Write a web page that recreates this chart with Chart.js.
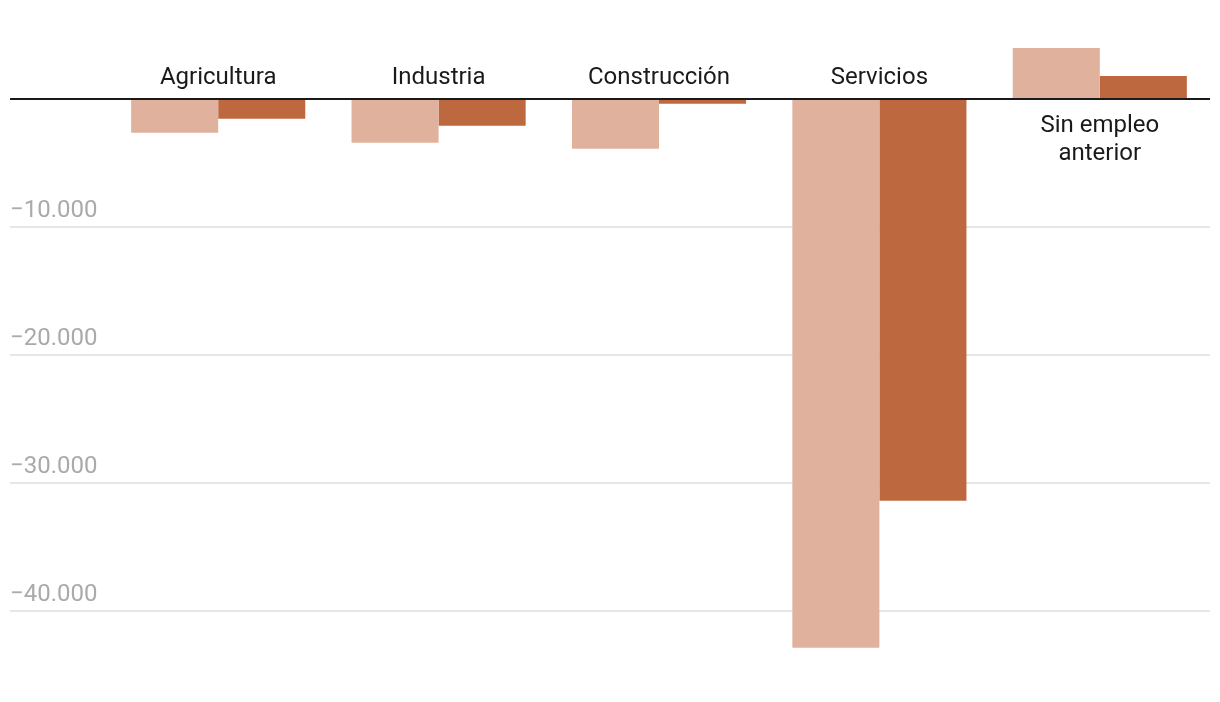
<!DOCTYPE html>
<html lang="es">
<head>
<meta charset="utf-8">
<title>Variación por sector</title>
<script src="https://cdn.jsdelivr.net/npm/chart.js@4"></script>
<style>
  html, body { margin: 0; padding: 0; background: #fff; }
  #chart { display: block; }
</style>
</head>
<body>
<canvas id="chart" width="1220" height="702"></canvas>
<script>
// Data
const categories = ['Agricultura', 'Industria', 'Construcción', 'Servicios', ['Sin empleo', 'anterior']];
const serieA = [-2630, -3410, -3880, -42870, 3980];
const serieB = [-1540, -2090, -370, -31380, 1800];
const tickValues = [0, -10000, -20000, -30000, -40000];

const lightColor = '#e0b29d';
const darkColor = '#be6840';
const FONT = 'Roboto, "Noto Sans", sans-serif';

function formatTick(v) {
  const s = Math.abs(v).toString().replace(/\B(?=(\d{3})+(?!\d))/g, '.');
  return (v < 0 ? '\u2212' : '') + s;
}

// Zero line, tick labels and category labels, drawn from the scales
const labelsPlugin = {
  id: 'labels',
  afterDatasetsDraw(chart) {
    const { ctx, scales: { x, y } } = chart;
    const zero = y.getPixelForValue(0);
    ctx.save();

    // zero line on top of the bars
    ctx.strokeStyle = '#1a1a1a';
    ctx.lineWidth = 2;
    ctx.beginPath();
    ctx.moveTo(10, zero);
    ctx.lineTo(chart.chartArea.right, zero);
    ctx.stroke();

    // y tick labels, sitting above their grid lines
    ctx.font = '24px ' + FONT;
    ctx.fillStyle = '#aaaaaa';
    ctx.textAlign = 'left';
    ctx.textBaseline = 'alphabetic';
    tickValues.forEach(v => {
      if (v === 0) return;
      ctx.fillText(formatTick(v), 10, y.getPixelForValue(v) - 10);
    });

    // category labels on the opposite side of the bars
    ctx.fillStyle = '#1a1a1a';
    ctx.textAlign = 'center';
    categories.forEach((cat, i) => {
      const cx = x.getPixelForValue(i);
      const lines = Array.isArray(cat) ? cat : [cat];
      const positive = serieA[i] + serieB[i] > 0;
      lines.forEach((line, k) => {
        const ty = positive ? zero + 33 + k * 27.5 : zero - 15 - (lines.length - 1 - k) * 27.5;
        ctx.fillText(line, cx, ty);
      });
    });
    ctx.restore();
  }
};

new Chart(document.getElementById('chart'), {
  type: 'bar',
  data: {
    labels: categories,
    datasets: [
      { label: 'Serie A', data: serieA, backgroundColor: lightColor },
      { label: 'Serie B', data: serieB, backgroundColor: darkColor }
    ]
  },
  options: {
    responsive: false,
    animation: false,
    devicePixelRatio: 1,
    layout: { padding: { top: 22.2, bottom: 14.2, left: 10, right: 10 } },
    datasets: {
      bar: { categoryPercentage: 0.79, barPercentage: 1, borderWidth: 0 }
    },
    plugins: {
      legend: { display: false },
      tooltip: { enabled: false }
    },
    scales: {
      x: { display: false },
      y: {
        min: -46000,
        max: 6000,
        afterBuildTicks(scale) {
          scale.ticks = tickValues.map(v => ({ value: v }));
        },
        border: { display: false },
        ticks: { display: false },
        grid: {
          tickLength: 98,
          lineWidth: 2,
          color: ctx => ctx.tick && ctx.tick.value === 0 ? 'rgba(0,0,0,0)' : '#e6e6e6'
        }
      }
    }
  },
  plugins: [labelsPlugin]
});
</script>
</body>
</html>
